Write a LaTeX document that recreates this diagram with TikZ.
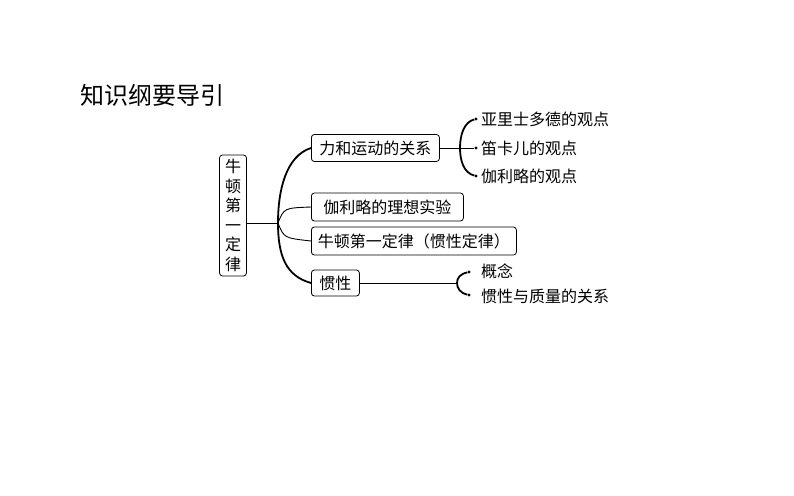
\documentclass[tikz,border=0pt]{standalone}
\usepackage{fontspec}
\setmainfont{Noto Sans CJK SC}[BoldFont={Noto Sans CJK SC Bold}]
\begin{document}
\begin{tikzpicture}[x=1pt,y=-1pt,
  bx/.style={draw,rounded corners=3pt,line width=0.8pt,inner sep=0pt,anchor=west,font=\fontsize{16}{18}\selectfont},
  lf/.style={anchor=west,inner sep=0pt,font=\fontsize{16}{18}\selectfont},
  dotm/.style={circle,fill,inner sep=1.1pt},
  ln/.style={line width=0.9pt},
  brc/.style={line width=1.8pt}]
\useasboundingbox (0,0) rectangle (794,495);
\node[anchor=west,inner sep=0pt,font=\fontsize{24}{26}\selectfont] (title) at (80,95) {知识纲要导引};
\node[draw,rounded corners=3pt,line width=0.8pt,minimum width=27pt,minimum height=121pt,inner sep=0pt,
  align=center,font=\fontsize{16}{19.5}\selectfont] (root) at (233,215.5) {牛\\顿\\第\\一\\定\\律};
\node[bx,minimum height=27pt,text width=128pt,align=center] (b1) at (311,148) {力和运动的关系};
\node[bx,minimum height=28pt,text width=152pt,align=center] (b2) at (311,207) {伽利略的理想实验};
\node[bx,minimum height=28pt,text width=205pt,align=center] (b3) at (311,241) {牛顿第一定律（惯性定律）};
\node[bx,minimum height=26pt,text width=48pt,align=center] (b4) at (311,283) {惯性};
\coordinate (j) at (278,223);
\draw[ln] (root.east |- j) -- (j);
\draw[brc] (b1.west) .. controls (286,156) and (278,190) .. (j) .. controls (278,256) and (286,276) .. (b4.west);
\draw[ln] (j) .. controls (284,208) .. (b2.west);
\draw[ln] (j) .. controls (284,238) .. (b3.west);
% sub 1
\node[dotm] (d1) at (476,119) {};
\node[dotm] (d2) at (476,148) {};
\node[dotm] (d3) at (476,176) {};
\node[lf] (t1) at (481,119) {亚里士多德的观点};
\node[lf] (t2) at (481,148) {笛卡儿的观点};
\node[lf] (t3) at (481,176) {伽利略的观点};
\draw[ln] (b1.east) -- (d2);
\draw[brc] (d1) .. controls (464,122) and (460,135) .. (460,148) .. controls (460,161) and (464,173) .. (d3);
% sub 4
\node[dotm] (e1) at (469,272) {};
\node[dotm] (e2) at (469,295) {};
\node[lf] (s1) at (481,271) {概念};
\node[lf] (s2) at (481,296) {惯性与质量的关系};
\coordinate (k) at (457,283);
\draw[ln] (b4.east) -- (k);
\draw[brc] (e1) .. controls (460,274) and (457,278) .. (k) .. controls (457,288) and (460,293) .. (e2);
\end{tikzpicture}
\end{document}
